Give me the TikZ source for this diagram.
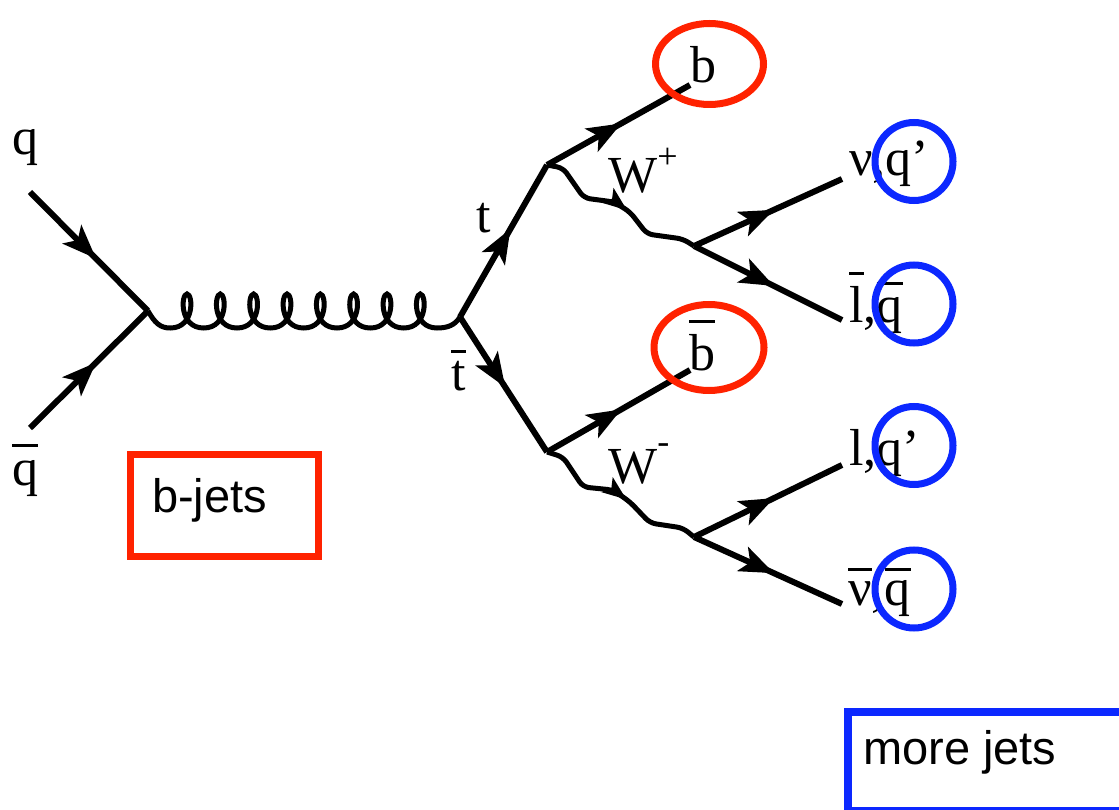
\documentclass[tikz,border=0pt]{standalone}
\usepackage{fontspec}
\setmainfont{Liberation Serif}
\newfontfamily\sansf{Liberation Sans}
\usetikzlibrary{arrows.meta,decorations.markings}
\definecolor{jetred}{RGB}{255,34,0}
\definecolor{jetblue}{RGB}{12,40,255}
\newcommand\ob[2]{\setbox0=\hbox{#2}\rlap{\raisebox{#1}{\rule{\wd0}{3pt}}}\box0}
\begin{document}
\begin{tikzpicture}[x=1pt,y=-1pt,
  pline/.style={line width=6pt},
  fermion/.style={pline, postaction={decorate},
    decoration={markings, mark=at position #1 with {\arrow{Stealth[length=34pt,width=26pt,inset=8pt]}}}},
  fermion/.default=0.55,
  wboson/.style={line width=5pt, rounded corners=6pt, postaction={decorate},
    decoration={markings, mark=at position #1 with {\arrow{Stealth[length=24pt,width=18pt,inset=5pt]}}}},
  gluon/.style={line width=5pt},
  lab/.style={font=\fontsize{52}{60}\selectfont, inner sep=0pt, anchor=base west},
  sans/.style={font=\sansf\fontsize{47}{56}\selectfont, inner sep=0pt, anchor=base west},
  redring/.style={draw=jetred, line width=7pt},
  bluering/.style={draw=jetblue, line width=7pt},
]
\clip (0,0) rectangle (1119,810);
\fill[white] (0,0) rectangle (1119,810);

% vertices and free ends
\coordinate (qs) at (30,192);
\coordinate (qbs) at (30,428);
\coordinate (v1) at (148,311);
\coordinate (v2) at (460,317);
\coordinate (tv) at (547,165);
\coordinate (tbv) at (547,452);
\coordinate (bend) at (690,85);
\coordinate (bbend) at (690,370);
\coordinate (wv1) at (694,246);
\coordinate (wv2) at (694,537);
\coordinate (e1) at (842,179);
\coordinate (e2) at (842,320);
\coordinate (e3) at (842,465);
\coordinate (e4) at (842,604);

% incoming quarks
\draw[fermion=0.56] (qs) -- (v1);
\draw[fermion=0.56] (qbs) -- (v1);

% gluon
\draw[gluon] (v1) .. controls (155,323) and (160,328) .. (170.3,328)
  \foreach \x in {187,220.3,253.6,287,320.3,353.6,387,420.3} {
    .. controls ({\x+8},328) and ({\x+6},294) .. (\x,294)
    .. controls ({\x-6},294) and ({\x-8},328) .. ({\x+16.7},328)
  }
  .. controls (448,328) and (455,325) .. (v2);

% top quarks
\draw[fermion=0.58] (v2) -- (tv);
\draw[fermion=0.52] (v2) -- (tbv);

% b quarks
\draw[fermion=0.52] (tv) -- (bend);
\draw[fermion=0.52] (tbv) -- (bbend);

% W bosons
\draw[wboson=0.55] (tv) -- (563,168) -- (584,198) -- (614,202) -- (630,212) -- (647,234) -- (683,239) -- (wv1);
\draw[wboson=0.55] (tbv) -- (563,457) -- (583,487) -- (613,490) -- (630,502) -- (650,523) -- (683,528) -- (wv2);

% W decays
\draw[fermion=0.54] (wv1) -- (e1);
\draw[fermion=0.54] (wv1) -- (e2);
\draw[fermion=0.54] (wv2) -- (e3);
\draw[fermion=0.54] (wv2) -- (e4);

% labels
\node[lab] (lq) at (12,155) {q};
\node[lab] (lqb) at (12,485) {\ob{38pt}{q}};
\node[lab] (lt) at (476,233) {t};
\node[lab] (ltb) at (451,390) {\ob{37pt}{t}};
\node[lab] (lb) at (690,83) {b};
\node[lab] (lbb) at (689,370) {\ob{47pt}{b}};
\node[lab] (lwp) at (608,193) {W\raisebox{24pt}{\fontsize{36}{40}\selectfont +}};
\node[lab] (lwm) at (608,483) {W\raisebox{30pt}{\fontsize{36}{40}\selectfont -}};
\node[lab] (l1) at (849,176) {ν,q’};
\node[lab] (l2) at (849,323) {\ob{48pt}{l},\ob{38pt}{q}};
\node[lab] (l3) at (849,465) {l,q’};
\node[lab] (l4) at (848,605) {\ob{34pt}{ν},\ob{34pt}{q}};

% highlight rings
\draw[redring] (709.5,64) ellipse [x radius=54pt, y radius=40.5pt];
\draw[redring] (709,347.5) ellipse [x radius=55pt, y radius=43pt];
\draw[bluering] (914,161.5) circle [radius=39pt];
\draw[bluering] (914,304) circle [radius=39pt];
\draw[bluering] (914,445.5) circle [radius=39pt];
\draw[bluering] (914,589) circle [radius=39pt];

% boxes
\node[draw=jetred, line width=7pt, minimum width=188pt, minimum height=102pt, inner sep=0pt] (bbox) at (224.5,505.5) {};
\node[sans] (bjets) at (152,512) {b-jets};
\node[draw=jetblue, line width=8pt, minimum width=286pt, minimum height=99pt, inner sep=0pt, anchor=north west] (mbox) at (844,708) {};
\node[sans] (mjets) at (863,764) {more jets};
\end{tikzpicture}
\end{document}
